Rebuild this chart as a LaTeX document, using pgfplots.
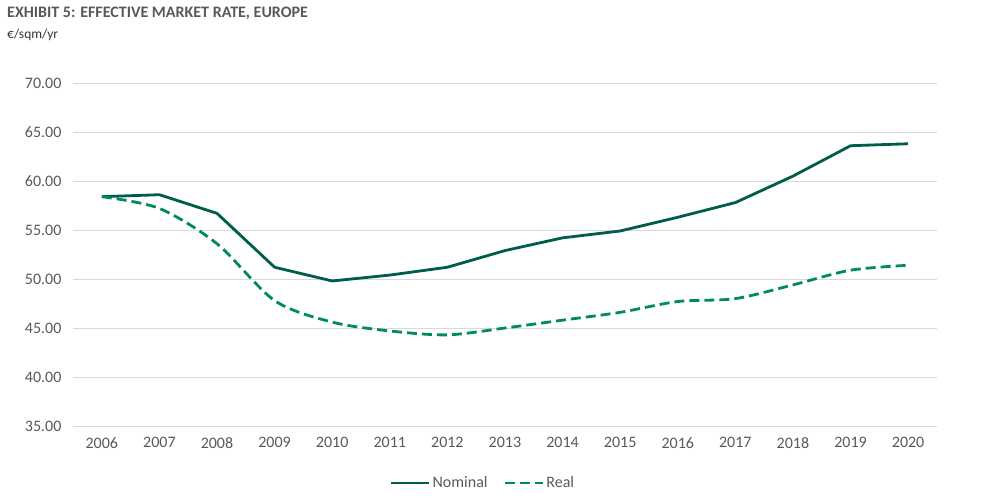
\documentclass[border=0pt]{standalone}
\usepackage{pgfplots}
\pgfplotsset{compat=1.18}
\usepackage{fontspec}
\setmainfont{Carlito}
\definecolor{nomcol}{RGB}{0,92,75}
\definecolor{realcol}{RGB}{0,140,90}
\definecolor{txtgray}{RGB}{89,89,89}
\definecolor{gridgray}{RGB}{217,217,217}
\begin{document}
\begin{tikzpicture}[x=1pt,y=1pt]
\path[use as bounding box] (0,0) rectangle (991,499);
\node[anchor=west, font=\fontsize{16}{18}\selectfont\bfseries, text=txtgray, inner sep=0pt] at (7,486) {EXHIBIT 5: EFFECTIVE MARKET RATE, EUROPE};
\node[anchor=west, font=\fontsize{13.5}{15}\selectfont, text=black!80, inner sep=0pt] at (7,464) {€/sqm/yr};
\begin{axis}[
  at={(73pt,73pt)}, anchor=south west,
  width=864pt, height=343pt, scale only axis,
  xmin=2005.5, xmax=2020.5, ymin=35, ymax=70,
  xtick={2006,...,2020},
  ytick={35,40,...,70},
  xticklabel style={/pgf/number format/1000 sep={}, yshift=-8pt},
  yticklabel style={/pgf/number format/fixed, /pgf/number format/fixed zerofill, /pgf/number format/precision=2, xshift=-8pt},
  /pgf/number format/assume math mode=true,
  tick label style={font=\fontsize{16}{18}\selectfont, text=txtgray},
  major tick length=0pt,
  axis line style={draw=none},
  axis x line*=bottom,
  axis y line*=left,
  ymajorgrids, major grid style={gridgray, line width=1pt},
  legend style={at={(0.4745,-0.166)}, anchor=center, draw=none, fill=none,
    legend columns=2, font=\fontsize{16}{18}\selectfont, text=txtgray,
    /tikz/every even column/.append style={column sep=14pt}},
  legend image code/.code={\draw[#1] (0pt,0pt) -- (38pt,0pt);},
  clip=false,
]
\addplot[nomcol, line width=2.8pt, line join=round] coordinates {
(2006,58.4) (2007,58.6) (2008,56.7) (2009,51.2) (2010,49.8) (2011,50.4) (2012,51.2) (2013,52.9) (2014,54.2) (2015,54.9) (2016,56.3) (2017,57.8) (2018,60.5) (2019,63.6) (2020,63.8)};
\addlegendentry{Nominal}
\addplot[realcol, line width=2.8pt, dash pattern=on 10pt off 5pt, smooth, tension=0.5] coordinates {
(2006,58.4) (2007,57.2) (2008,53.6) (2009,47.8) (2010,45.6) (2011,44.7) (2012,44.3) (2013,45.0) (2014,45.8) (2015,46.6) (2016,47.7) (2017,48.0) (2018,49.4) (2019,50.9) (2020,51.4)};
\addlegendentry{Real}
\end{axis}
\end{tikzpicture}
\end{document}
